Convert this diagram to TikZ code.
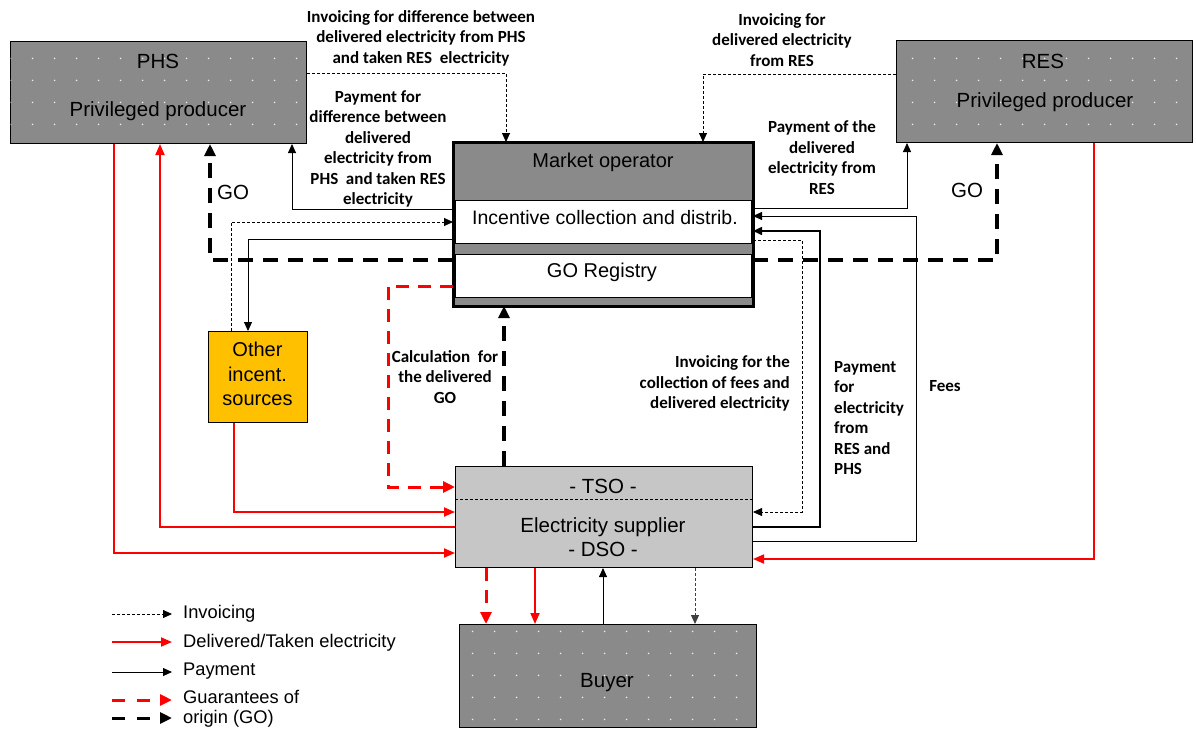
\documentclass[tikz,border=0pt]{standalone}
\usepackage{fontspec}
\setmainfont{Liberation Sans}
\newfontfamily\lbl{Carlito}
\usetikzlibrary{arrows.meta,patterns.meta}
\definecolor{darkfill}{HTML}{8A8A8A}
\definecolor{lightfill}{HTML}{C6C6C6}
\definecolor{orfill}{HTML}{FFC000}
\definecolor{rd}{HTML}{FF0000}
\pgfdeclarepattern{name=wdots, type=uncolored, bottom left={\pgfpoint{0pt}{0pt}},
  top right={\pgfpoint{22pt}{22pt}}, tile size={\pgfpoint{22pt}{22pt}},
  code={\pgfpathcircle{\pgfpoint{11pt}{11pt}}{0.9pt}\pgfusepath{fill}}}
\tikzset{
  box/.style={draw=black, line width=1pt, anchor=north west, inner sep=0pt},
  darkbox/.style={box, fill=darkfill, postaction={pattern=wdots, pattern color=white!85!darkfill}},
  boxtext/.style={font=\fontsize{20.5}{24}\selectfont, inner sep=0pt},
  lab/.style={font=\lbl\bfseries\fontsize{17}{20.5}\selectfont, align=center, inner sep=0pt},
  legtext/.style={font=\fontsize{18.3}{21}\selectfont, anchor=west, inner sep=0pt},
  tip/.style={-{Triangle[length=9pt,width=8pt]}},
  bigtip/.style={-{Triangle[length=12pt,width=11pt]}},
  inv/.style={tip, line width=0.8pt, dash pattern=on 3pt off 2pt},
  pay/.style={tip, line width=0.9pt},
  elec/.style={-{Triangle[length=11pt,width=9pt]}, draw=rd, line width=1.8pt},
  gol/.style={bigtip, line width=3.5pt, dash pattern=on 15pt off 10pt},
  redgo/.style={bigtip, draw=rd, line width=3pt, dash pattern=on 13pt off 9pt},
}
\begin{document}
\begin{tikzpicture}[x=1pt, y=-1pt]
\useasboundingbox (0,0) rectangle (1196,729);

% ---------- boxes ----------
\node[darkbox, minimum width=296, minimum height=102] (phs) at (10,41) {};
\node[boxtext] (phst) at (158,61) {PHS};
\node[boxtext] (phsp) at (158,111) {Privileged producer};

\node[darkbox, minimum width=296, minimum height=102] (res) at (896,40) {};
\node[boxtext] (rest) at (1043,61) {RES};
\node[boxtext] (resp) at (1045,102) {Privileged producer};

\node[box, fill=darkfill, minimum width=299, minimum height=163] (mo) at (453,142) {};
\node[box, fill=white, line width=0.6pt, minimum width=296, minimum height=43] (moinc) at (454.5,200) {};
\node[box, fill=white, line width=0.6pt, minimum width=296, minimum height=43] (moreg) at (454.5,254) {};
\draw[line width=3pt] (mo.north west) rectangle (mo.south east);
\node[boxtext, font=\fontsize{20}{24}\selectfont] (mot) at (603,162) {Market operator};
\node[boxtext, font=\fontsize{19.5}{24}\selectfont] (moinct) at (605,218) {Incentive collection and distrib.};
\node[boxtext, font=\fontsize{20}{24}\selectfont] (moregt) at (602,272) {GO Registry};

\node[box, fill=orfill, minimum width=99, minimum height=91] (oth) at (208,331) {};
\node[boxtext, align=center, font=\fontsize{20}{24.5}\selectfont] (otht) at (257.5,374) {Other\\incent.\\sources};

\node[box, fill=lightfill, minimum width=297, minimum height=101] (tso) at (455,466) {};
\draw[line width=0.6pt, dash pattern=on 3pt off 2pt] (tso.west |- 0,499) -- (tso.east |- 0,499);
\node[boxtext] (tsot) at (603,486) {- TSO -};
\node[boxtext] (tsoe) at (603,527) {Electricity supplier};
\node[boxtext] (tsod) at (603,549) {- DSO -};

\node[darkbox, minimum width=297, minimum height=103] (buyer) at (459,624) {};
\node[boxtext] (buyert) at (607,683) {Buyer};

% ---------- top connectors ----------
\draw[inv] (phs.east |- 0,73) -| (mo.north -| 506,0);
\draw[inv] (res.west |- 0,74) -| (mo.north -| 703,0);
\draw[pay] (mo.west |- 0,209) -| (phs.south -| 292,0);
\draw[pay] (mo.east |- 0,208) -| (res.south -| 907,0);
\draw[gol] (mo.west |- 0,260) -| (phs.south -| 210,0);
\draw[gol] (mo.east |- 0,260) -| (res.south -| 997,0);

% other incentive sources
\draw[inv] (oth.north -| 231,0) |- (mo.west |- 0,222);
\draw[pay] (mo.west |- 0,239) -| (oth.north -| 248,0);

% right side loops
\draw[pay] (tso.east |- 0,541) -| (916,216) -- (mo.east |- 0,216);
\draw[pay, line width=1.6pt] (tso.east |- 0,527) -| (820,231) -- (mo.east |- 0,231);
\draw[inv] (mo.east |- 0,240) -| (802,512) -- (tso.east |- 0,512);

% electricity
\draw[elec] (res.south -| 1094,0) |- (tso.east |- 0,559);
\draw[elec] (phs.south -| 114,0) |- (tso.west |- 0,553);
\draw[elec] (tso.west |- 0,527) -| (phs.south -| 160,0);
\draw[elec] (oth.south -| 234,0) |- (tso.west |- 0,512);

% GO
\draw[redgo] (mo.west |- 0,286) -| (388,487) -- (tso.west |- 0,487);
\draw[gol] (tso.north -| 504,0) -- (mo.south -| 504,0);

% bottom
\draw[redgo] (tso.south -| 486,0) -- (buyer.north -| 486,0);
\draw[elec] (tso.south -| 535,0) -- (buyer.north -| 535,0);
\draw[pay] (buyer.north -| 603,0) -- (tso.south -| 603,0);
\draw[inv, draw=black!75] (tso.south -| 695,0) -- (buyer.north -| 695,0);

% ---------- labels ----------
\node[lab] (l1) at (421,38) {Invoicing for difference between\\delivered electricity from PHS\\and taken RES \ electricity};
\node[lab] (l2) at (782,40) {Invoicing for\\delivered electricity\\from RES};
\node[lab] (l3) at (378,149) {Payment for\\difference between\\delivered\\electricity from\\PHS \ and taken RES\\electricity};
\node[lab] (l4) at (822,157.5) {Payment of the\\delivered\\electricity from\\RES};
\node[boxtext] (go1) at (233,192) {GO};
\node[boxtext] (go2) at (967,190) {GO};
\node[lab] (l5) at (445,377) {Calculation \ for\\the delivered\\GO};
\node[lab, align=right, anchor=east] (l6) at (790,383.5) {Invoicing for the\\collection of fees and\\delivered electricity};
\node[lab, align=left, anchor=west] (l7) at (834,418) {Payment\\for\\electricity\\from\\RES and\\PHS};
\node[lab] (l8) at (945,386) {Fees};

% ---------- legend ----------
\coordinate (a1) at (112,614); \coordinate (b1) at (172,614);
\coordinate (a2) at (112,642); \coordinate (b2) at (172,642);
\coordinate (a3) at (112,672); \coordinate (b3) at (172,672);
\coordinate (a4) at (112,700); \coordinate (b4) at (172,700);
\coordinate (a5) at (112,718); \coordinate (b5) at (172,718);
\draw[inv] (a1) -- (b1);
\draw[elec] (a2) -- (b2);
\draw[pay] (a3) -- (b3);
\draw[redgo, dash pattern=on 13pt off 12pt] (a4) -- (b4);
\draw[gol, line width=3pt, dash pattern=on 13pt off 12pt] (a5) -- (b5);
\node[legtext] (t1) at (183,614) {Invoicing};
\node[legtext] (t2) at (183,643) {Delivered/Taken electricity};
\node[legtext] (t3) at (183,671) {Payment};
\node[legtext] (t4) at (183,697) {Guarantees of};
\node[legtext] (t5) at (183,719) {origin (GO)};
\end{tikzpicture}
\end{document}
